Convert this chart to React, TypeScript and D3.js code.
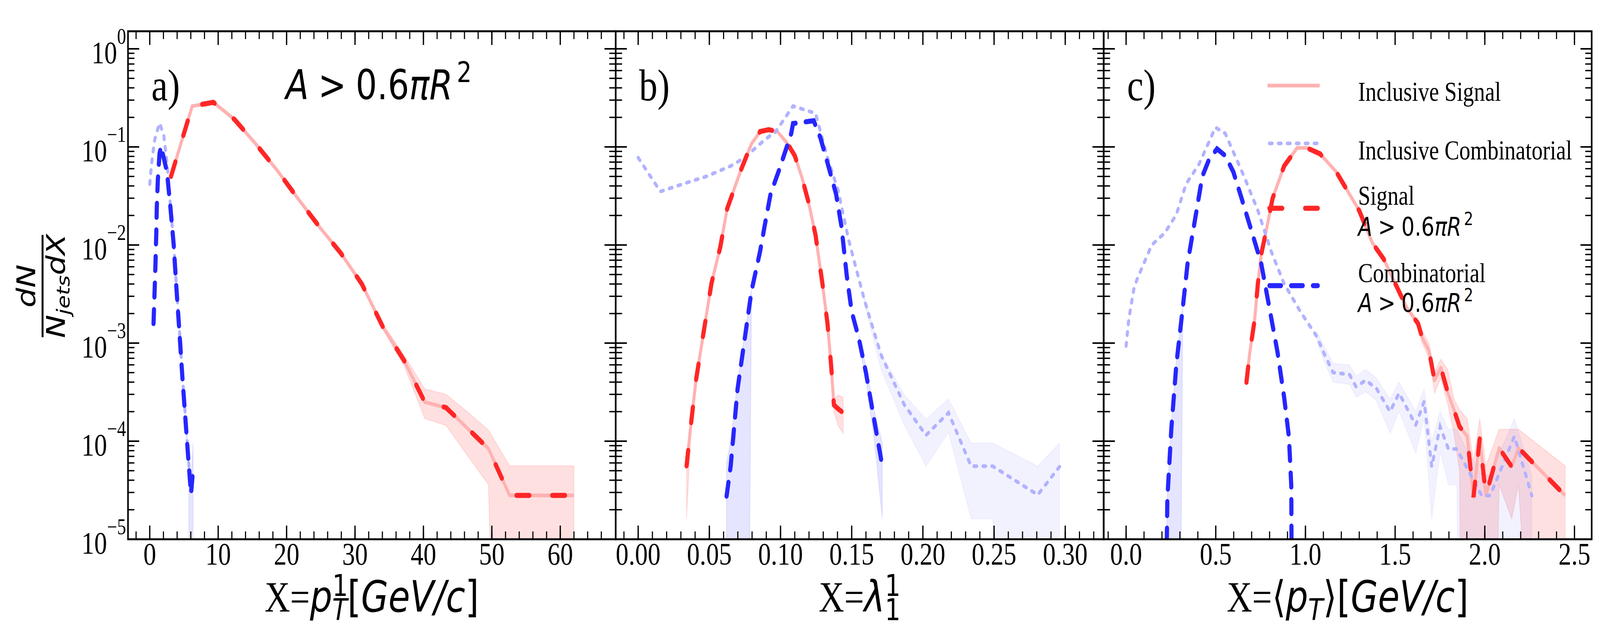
import * as d3 from 'd3';

// ---------- values ----------
// a) X = pT of leading constituent [GeV/c]
const sigAx = [3.1, 6.2, 9.3, 12.4, 15.5, 18.6, 21.7, 24.8, 27.9, 31.0, 34.1, 37.2, 40.2, 43.3, 46.4, 49.5, 52.6, 55.7, 58.8, 62.0];
const sigAy = [0.05, 0.26, 0.285, 0.19, 0.107, 0.058, 0.0295, 0.0153, 0.0083, 0.004, 0.00145, 0.00066, 0.00025, 0.00022, 0.000136, 0.000084, 0.000028, 0.000028, 0.000028, 0.000028];
const combAx = [0.55, 0.72, 0.84, 0.95, 1.03, 1.18, 1.42, 1.65, 1.87, 2.5, 3.0, 3.5, 3.84, 4.3, 4.77, 5.24, 5.7, 6.03, 6.33];
const combAy = [0.00158, 0.00355, 0.0066, 0.0129, 0.0245, 0.0457, 0.0841, 0.102, 0.0871, 0.0562, 0.0251, 0.01, 0.00417, 0.00141, 0.000447, 0.000158, 0.0000575, 0.000029, 0.000051];
const incCombAx = [0.0, 0.25, 0.71, 1.42, 2.04, 2.35, 2.6, 3.0, 3.5, 3.84, 4.3, 4.77, 5.24, 5.7, 6.03, 6.33];
const incCombAy = [0.0417, 0.066, 0.1175, 0.175, 0.133, 0.0871, 0.0603, 0.0263, 0.0105, 0.0044, 0.00148, 0.00047, 0.000166, 0.00006, 0.00003, 0.000051];
const sigBandAx = [34.1, 37.2, 40.2, 43.3, 46.4, 49.5, 52.6, 55.7, 58.8, 62.0];
const sigBandAlo = [0.00137, 0.00058, 0.00017, 0.000145, 0.000072, 0.000036, 0, 0, 0, 0];
const sigBandAhi = [0.00155, 0.00075, 0.00034, 0.0003, 0.0002, 0.00013, 0.000056, 0.000056, 0.000056, 0.000056];
const combBandAx = [5.24, 5.7, 6.03, 6.33];
const combBandAlo = [0.00015, 0.00004, 0, 0];
const combBandAhi = [0.000166, 0.00007, 0.00004, 0.000095];

// b) X = lambda_1^1
const sigBx = [0.034, 0.037, 0.0406, 0.0455, 0.0515, 0.0577, 0.0625, 0.0722, 0.0796, 0.0857, 0.0917, 0.0978, 0.105, 0.11, 0.1148, 0.1197, 0.1246, 0.1294, 0.133, 0.1355, 0.1375, 0.1404, 0.144];
const sigBy = [0.000056, 0.000145, 0.000417, 0.00117, 0.00407, 0.00955, 0.0234, 0.0582, 0.1076, 0.1435, 0.15, 0.1435, 0.1076, 0.0813, 0.0501, 0.0272, 0.0126, 0.00407, 0.00158, 0.000603, 0.000234, 0.000214, 0.000195];
const combBx = [0.0621, 0.065, 0.0698, 0.0747, 0.0796, 0.0857, 0.0893, 0.093, 0.099, 0.1075, 0.1088, 0.1233, 0.128, 0.134, 0.139, 0.1428, 0.1465, 0.15, 0.155, 0.16, 0.166, 0.1715];
const combBy = [0.0000275, 0.000056, 0.000339, 0.00107, 0.00339, 0.0087, 0.017, 0.0331, 0.0582, 0.137, 0.173, 0.185, 0.124, 0.061, 0.0331, 0.0155, 0.0049, 0.00209, 0.00112, 0.0005, 0.000158, 0.0000556];
const incCombBx = [0.0, 0.0156, 0.031, 0.048, 0.065, 0.0747, 0.089, 0.0966, 0.1088, 0.1246, 0.133, 0.1404, 0.1477, 0.1587, 0.1706, 0.187, 0.2022, 0.218, 0.2339, 0.249, 0.2807, 0.296];
const incCombBy = [0.0776, 0.0351, 0.0417, 0.0501, 0.0638, 0.0776, 0.1186, 0.143, 0.261, 0.22, 0.0776, 0.0363, 0.0115, 0.00282, 0.000759, 0.000234, 0.000115, 0.000195, 0.0000556, 0.0000556, 0.0000284, 0.000055];
const sigBand1Bx = [0.034, 0.037, 0.0406];
const sigBand1Blo = [0.0000164, 0.00012, 0.0004];
const sigBand1Bhi = [0.000063, 0.00016, 0.00044];
const sigBand2Bx = [0.1355, 0.1375, 0.1404, 0.144];
const sigBand2Blo = [0.00058, 0.0002, 0.000145, 0.00012];
const sigBand2Bhi = [0.00063, 0.00027, 0.000295, 0.00028];
const combBand1Bx = [0.0621, 0.065, 0.0698, 0.0747, 0.0796];
const combBand1Blo = [0, 0, 0, 0, 0.0033];
const combBand1Bhi = [0.00006, 0.0001, 0.0004, 0.0012, 0.0035];
const combBand2Bx = [0.155, 0.16, 0.166, 0.1715];
const combBand2Blo = [0.001, 0.00042, 0.0001, 0.0000162];
const combBand2Bhi = [0.0012, 0.00058, 0.0002, 0.0000955];
const incCombBandBx = [0.1587, 0.1706, 0.187, 0.2022, 0.218, 0.2339, 0.249, 0.2807, 0.296];
const incCombBandBlo = [0.0026, 0.000537, 0.000145, 0.0000556, 0.000123, 0.0000162, 0.0000162, 0, 0];
const incCombBandBhi = [0.003, 0.00079, 0.000295, 0.000168, 0.000269, 0.0000955, 0.0000955, 0.0000556, 0.0000955];

// c) X = <pT> [GeV/c]
const sigCx = [0.671, 0.69, 0.717, 0.735, 0.753, 0.781, 0.817, 0.881, 0.954, 1.008, 1.081, 1.172, 1.245, 1.3, 1.373, 1.437, 1.5, 1.565, 1.628, 1.65, 1.689, 1.72, 1.755, 1.793, 1.828, 1.859, 1.902, 1.937, 1.972, 2.006, 2.08, 2.15, 2.188, 2.448];
const sigCy = [0.000398, 0.000813, 0.00174, 0.00407, 0.00794, 0.01396, 0.0299, 0.0638, 0.0977, 0.0977, 0.0851, 0.0556, 0.0331, 0.0224, 0.0105, 0.00716, 0.00407, 0.00229, 0.00158, 0.00115, 0.000832, 0.000417, 0.000562, 0.000316, 0.000209, 0.000141, 0.000112, 0.0000269, 0.000107, 0.0000279, 0.0000851, 0.000055, 0.0000851, 0.0000279];
const combCx = [0.225, 0.23, 0.252, 0.28, 0.316, 0.343, 0.389, 0.425, 0.462, 0.507, 0.553, 0.598, 0.644, 0.699, 0.753, 0.799, 0.844, 0.881, 0.908, 0.921, 0.923];
const combCy = [0.000005, 0.000026, 0.000132, 0.000603, 0.00229, 0.00653, 0.0204, 0.0501, 0.0741, 0.0955, 0.0813, 0.0556, 0.0299, 0.01396, 0.00653, 0.00229, 0.000813, 0.000282, 0.00011, 0.000035, 0.000005];
const incCombCx = [0.0, 0.015, 0.043, 0.061, 0.143, 0.216, 0.28, 0.334, 0.407, 0.498, 0.553, 0.607, 0.662, 0.735, 0.808, 0.88, 0.972, 1.063, 1.1, 1.154, 1.245, 1.282, 1.336, 1.395, 1.472, 1.522, 1.615, 1.662, 1.704, 1.751, 1.797, 1.844, 1.983, 2.03, 2.165, 2.262];
const incCombCy = [0.000933, 0.00174, 0.00355, 0.00447, 0.01, 0.0133, 0.0204, 0.0417, 0.0668, 0.158, 0.137, 0.0813, 0.0479, 0.0224, 0.0087, 0.00407, 0.00209, 0.00117, 0.000813, 0.000501, 0.000479, 0.000359, 0.000417, 0.000347, 0.0002, 0.000309, 0.000146, 0.000254, 0.000055, 0.000141, 0.0000832, 0.0000832, 0.0000279, 0.0000279, 0.000112, 0.0000279];
const sigBandCx = [1.628, 1.65, 1.689, 1.72, 1.755, 1.793, 1.828, 1.859, 1.902, 1.937, 1.972, 2.006, 2.08, 2.15, 2.188, 2.448];
const sigBandClo = [0.00145, 0.001, 0.000708, 0.000309, 0.000437, 0.00024, 0.00012, 0.00005, 0, 0, 0, 0, 0.0000359, 0.0000162, 0.0000359, 0];
const sigBandChi = [0.00174, 0.00132, 0.001, 0.000513, 0.000687, 0.000537, 0.000269, 0.000209, 0.00017, 0.000063, 0.00017, 0.000056, 0.000132, 0.000132, 0.000132, 0.000056];
const combBandCx = [0.225, 0.23, 0.252, 0.28, 0.316];
const combBandClo = [0, 0, 0, 0, 0.0021];
const combBandChi = [0.00001, 0.00003, 0.00015, 0.00065, 0.0024];
const incCombBandCx = [1.063, 1.1, 1.154, 1.245, 1.282, 1.336, 1.395, 1.472, 1.522, 1.615, 1.662, 1.704, 1.751, 1.797, 1.844, 1.9, 1.983, 2.03, 2.165, 2.262];
const incCombBandClo = [0.00105, 0.00068, 0.0004, 0.00038, 0.00028, 0.00032, 0.00026, 0.00012, 0.0002, 0.000076, 0.00017, 0.000016, 0.000078, 0.000036, 0.000036, 0, 0, 0, 0, 0];
const incCombBandChi = [0.0013, 0.00097, 0.00062, 0.0006, 0.00046, 0.00054, 0.00044, 0.00027, 0.0004, 0.0002, 0.00034, 0.0001, 0.0002, 0.000132, 0.000132, 0.00008, 0.000045, 0.000045, 0.00017, 0.000045];

const panelLabels = ['a)', 'b)', 'c)'];
const legendLabels = ['Inclusive Signal', 'Inclusive Combinatorial', 'Signal', 'Combinatorial'];

// ---------- layout ----------
const W = 5000;
const H = 1625;
const TOP = 80;
const BOTTOM = 1380;
const edges = [400, 1924, 3449, 4974];
const SERIF = 'Liberation Serif';
const MATH = 'DejaVu Sans';

const C_INC_SIG = '#ffb2b2';
const C_SIG = '#ff2626';
const C_COMB = '#2626ff';
const C_INC_COMB = '#b2b2ff';

const y = d3.scaleLog().domain([1e-5, 1.51]).range([BOTTOM, TOP]);
const yv = (v: number) => y(Math.max(v, 1e-12));

const yMajor = d3.range(-5, 1).map(e => Math.pow(10, e));
const yMinor: number[] = [];
d3.range(-6, 1).forEach(e => d3.range(2, 10).forEach(k => {
  const v = k * Math.pow(10, e);
  if (v > 1e-5 && v < 1.51) yMinor.push(v);
}));

type Band = { x: number[]; lo: number[]; hi: number[]; color: string; op: number };

const panels = [
  {
    domain: [-3.18, 68.1], major: d3.range(0, 61, 10), minor: d3.range(-2, 67, 2), fmt: d3.format('d'),
    sig: [sigAx, sigAy], comb: [combAx, combAy], incComb: [incCombAx, incCombAy],
    bands: [
      { x: sigBandAx, lo: sigBandAlo, hi: sigBandAhi, color: '#ff0000', op: 0.12 },
      { x: combBandAx, lo: combBandAlo, hi: combBandAhi, color: '#0000ff', op: 0.1 },
    ] as Band[],
  },
  {
    domain: [-0.0158, 0.327], major: d3.range(0, 0.301, 0.05), minor: d3.range(-0.01, 0.325, 0.01), fmt: d3.format('.2f'),
    sig: [sigBx, sigBy], comb: [combBx, combBy], incComb: [incCombBx, incCombBy],
    bands: [
      { x: sigBand1Bx, lo: sigBand1Blo, hi: sigBand1Bhi, color: '#ff0000', op: 0.12 },
      { x: sigBand2Bx, lo: sigBand2Blo, hi: sigBand2Bhi, color: '#ff0000', op: 0.12 },
      { x: combBand1Bx, lo: combBand1Blo, hi: combBand1Bhi, color: '#0000ff', op: 0.1 },
      { x: combBand2Bx, lo: combBand2Blo, hi: combBand2Bhi, color: '#0000ff', op: 0.1 },
      { x: incCombBandBx, lo: incCombBandBlo, hi: incCombBandBhi, color: '#0000ff', op: 0.05 },
    ] as Band[],
  },
  {
    domain: [-0.125, 2.596], major: d3.range(0, 2.51, 0.5), minor: d3.range(-0.1, 2.59, 0.1), fmt: d3.format('.1f'),
    sig: [sigCx, sigCy], comb: [combCx, combCy], incComb: [incCombCx, incCombCy],
    bands: [
      { x: sigBandCx, lo: sigBandClo, hi: sigBandChi, color: '#ff0000', op: 0.12 },
      { x: combBandCx, lo: combBandClo, hi: combBandChi, color: '#0000ff', op: 0.1 },
      { x: incCombBandCx, lo: incCombBandClo, hi: incCombBandChi, color: '#0000ff', op: 0.05 },
    ] as Band[],
  },
];

const linePath = (xs: number[], ys: number[], sx: d3.ScaleLinear<number, number>) =>
  d3.line<number>().x(i => sx(xs[i])).y(i => yv(ys[i]))(d3.range(xs.length)) || '';

const bandPath = (b: Band, sx: d3.ScaleLinear<number, number>) =>
  d3.area<number>().x(i => sx(b.x[i])).y0(i => yv(b.lo[i])).y1(i => yv(b.hi[i]))(d3.range(b.x.length)) || '';

const styles = {
  incSig: { stroke: C_INC_SIG, strokeWidth: 9.5, strokeLinejoin: 'round' as const },
  incComb: { stroke: C_INC_COMB, strokeWidth: 9.5, strokeDasharray: '8.5 19.5', strokeLinecap: 'round' as const },
  sig: { stroke: C_SIG, strokeWidth: 13, strokeDasharray: '40 71.6', strokeLinecap: 'round' as const },
  comb: { stroke: C_COMB, strokeWidth: 13, strokeDasharray: '36 32', strokeLinecap: 'round' as const },
};

function AreaCut({ x, yb, size }: { x: number; yb: number; size: number }) {
  return (
    <text x={x} y={yb} fontFamily={MATH} fontSize={size}>
      <tspan fontStyle="italic">A</tspan>
      <tspan dx={size * 0.28}>&gt;</tspan>
      <tspan dx={size * 0.28}>0.6</tspan>
      <tspan fontStyle="italic">πR</tspan>
      <tspan dx={size * 0.12} dy={-size * 0.42} fontSize={size * 0.7}>2</tspan>
    </text>
  );
}

function XLabel({ i, cx }: { i: number; cx: number }) {
  const fs = 110;
  const ss = 77;
  if (i === 0) {
    return (
      <text x={cx} y={1565} textAnchor="middle" fontSize={fs}>
        <tspan fontFamily={SERIF}>X=</tspan>
        <tspan fontFamily={MATH} fontStyle="italic">p</tspan>
        <tspan fontFamily={MATH} fontSize={ss} dy={-40}>1</tspan>
        <tspan fontFamily={MATH} fontStyle="italic" fontSize={ss} dx={-49} dy={62}>T</tspan>
        <tspan fontFamily={MATH} dy={-22}>[</tspan>
        <tspan fontFamily={MATH} fontStyle="italic">GeV/c</tspan>
        <tspan fontFamily={MATH}>]</tspan>
      </text>
    );
  }
  if (i === 1) {
    return (
      <text x={cx} y={1565} textAnchor="middle" fontSize={fs}>
        <tspan fontFamily={SERIF}>X=</tspan>
        <tspan fontFamily={MATH} fontStyle="italic">λ</tspan>
        <tspan fontFamily={MATH} fontSize={ss} dy={-40}>1</tspan>
        <tspan fontFamily={MATH} fontSize={ss} dx={-49} dy={62}>1</tspan>
      </text>
    );
  }
  return (
    <text x={cx} y={1565} textAnchor="middle" fontSize={fs}>
      <tspan fontFamily={SERIF}>X=</tspan>
      <tspan fontFamily={MATH}>⟨</tspan>
      <tspan fontFamily={MATH} fontStyle="italic">p</tspan>
      <tspan fontFamily={MATH} fontStyle="italic" fontSize={ss} dy={22}>T</tspan>
      <tspan fontFamily={MATH} dy={-22}>⟩[</tspan>
      <tspan fontFamily={MATH} fontStyle="italic">GeV/c</tspan>
      <tspan fontFamily={MATH}>]</tspan>
    </text>
  );
}

export default function App() {
  const legendRows = [219, 367, 533, 731];
  const hx0 = 3967;
  const hx1 = 4118;
  const tx = 4244;

  // the browser window is narrower than the figure, so the drawing is
  // stretched to fill the whole viewport
  return (
    <svg viewBox={`0 0 ${W} ${H}`} preserveAspectRatio="none"
      style={{ position: 'absolute', left: 0, top: 0, width: '100vw', height: '100vh', display: 'block' }}>
      <rect width={W} height={H} fill="#fff" />
      <defs>
        {panels.map((_, i) => (
          <clipPath id={`clip${i}`} key={i}>
            <rect x={edges[i]} y={TOP} width={edges[i + 1] - edges[i]} height={BOTTOM - TOP} />
          </clipPath>
        ))}
      </defs>

      {panels.map((p, i) => {
        const left = edges[i];
        const right = edges[i + 1];
        const sx = d3.scaleLinear().domain(p.domain).range([left, right]);
        return (
          <g key={i}>
            <g clipPath={`url(#clip${i})`} fill="none">
              {p.bands.map((b, k) => (
                <path key={k} d={bandPath(b, sx)} fill={b.color} fillOpacity={b.op}
                  stroke={b.color} strokeOpacity={b.op * 0.8} strokeWidth={3} />
              ))}
              <path d={linePath(p.sig[0], p.sig[1], sx)} {...styles.incSig} />
              <path d={linePath(p.incComb[0], p.incComb[1], sx)} {...styles.incComb} />
              <path d={linePath(p.sig[0], p.sig[1], sx)} {...styles.sig} />
              <path d={linePath(p.comb[0], p.comb[1], sx)} {...styles.comb} />
            </g>

            {/* x ticks, bottom and top, pointing in */}
            {p.minor.map((t, k) => (
              <g key={`mn${k}`} stroke="#000" strokeWidth={3.5}>
                <line x1={sx(t)} x2={sx(t)} y1={BOTTOM} y2={BOTTOM - 20} />
                <line x1={sx(t)} x2={sx(t)} y1={TOP} y2={TOP + 20} />
              </g>
            ))}
            {p.major.map((t, k) => (
              <g key={`mj${k}`}>
                <line x1={sx(t)} x2={sx(t)} y1={BOTTOM} y2={BOTTOM - 35} stroke="#000" strokeWidth={4} />
                <line x1={sx(t)} x2={sx(t)} y1={TOP} y2={TOP + 35} stroke="#000" strokeWidth={4} />
                <text x={sx(t)} y={1445} textAnchor="middle" fontFamily={SERIF} fontSize={80}>{p.fmt(t)}</text>
              </g>
            ))}

            {/* y ticks, left and right, pointing in */}
            {yMinor.map((v, k) => (
              <g key={`ymn${k}`} stroke="#000" strokeWidth={3.5}>
                <line x1={left} x2={left + 20} y1={y(v)} y2={y(v)} />
                <line x1={right} x2={right - 20} y1={y(v)} y2={y(v)} />
              </g>
            ))}
            {yMajor.map((v, k) => (
              <g key={`ymj${k}`} stroke="#000" strokeWidth={4}>
                <line x1={left} x2={left + 35} y1={y(v)} y2={y(v)} />
                <line x1={right} x2={right - 35} y1={y(v)} y2={y(v)} />
              </g>
            ))}

            <rect x={left} y={TOP} width={right - left} height={BOTTOM - TOP} fill="none" stroke="#000" strokeWidth={5} />
            <text x={left + 73} y={257} fontFamily={SERIF} fontSize={115}>{panelLabels[i]}</text>
            <XLabel i={i} cx={(left + right) / 2} />
          </g>
        );
      })}

      {/* y tick labels on panel a */}
      {yMajor.map((v, k) => {
        const e = Math.round(Math.log10(v));
        return (
          <text key={k} x={394} y={y(v) + 37} textAnchor="end" fontFamily={SERIF} fontSize={80}>
            10<tspan dy={-50} fontSize={56}>{e === 0 ? '0' : `\u2212${-e}`}</tspan>
          </text>
        );
      })}

      {/* y axis label */}
      <g transform="translate(133,732) rotate(-90)" fontFamily={MATH} fontStyle="italic" fontSize={80}>
        <text x={0} y={-23} textAnchor="middle">dN</text>
        <line x1={-131} x2={131} y1={0} y2={0} stroke="#000" strokeWidth={6} />
        <text x={0} y={70} textAnchor="middle">
          N<tspan fontSize={56} dy={14}>jets</tspan><tspan dy={-14}>dX</tspan>
        </text>
      </g>

      <AreaCut x={893} yb={254} size={105} />

      {/* legend */}
      <g fill="none">
        <line x1={hx0 - 6} x2={hx1 + 6} y1={legendRows[0]} y2={legendRows[0]} {...styles.incSig} />
        <line x1={hx0} x2={hx1} y1={legendRows[1]} y2={legendRows[1]} {...styles.incComb} />
        <line x1={hx0} x2={hx1} y1={legendRows[2]} y2={legendRows[2]} {...styles.sig} />
        <line x1={hx0} x2={hx1} y1={legendRows[3]} y2={legendRows[3]} {...styles.comb} />
      </g>
      <g fontFamily={SERIF} fontSize={69}>
        <text x={tx} y={258}>{legendLabels[0]}</text>
        <text x={tx} y={408}>{legendLabels[1]}</text>
        <text x={tx} y={524}>{legendLabels[2]}</text>
        <text x={tx} y={722}>{legendLabels[3]}</text>
      </g>
      <AreaCut x={tx} yb={603} size={65} />
      <AreaCut x={tx} yb={798} size={65} />
    </svg>
  );
}
